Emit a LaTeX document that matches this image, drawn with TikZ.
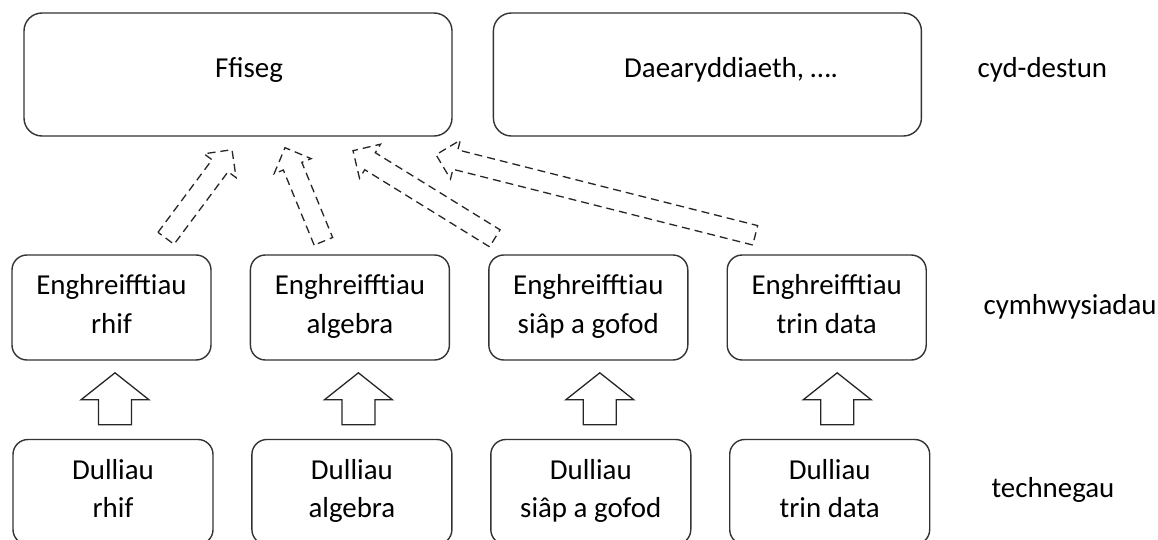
\documentclass[tikz,border=0pt]{standalone}
\usepackage{fontspec}
\setmainfont{Carlito}
\usetikzlibrary{calc, positioning}
\def\boxgap{38pt}
\tikzset{
    box/.style = {
        draw=black!80, rounded corners=15pt, line width=1.4pt, align=center,
        minimum width=199pt, minimum height=105pt, inner sep=0pt, text depth=7pt
    },
    topbox/.style = {
        box, minimum width=428pt, minimum height=123pt, rounded corners=18pt
    },
    layer/.style = {anchor=base west},
    uparrow/.style = {draw=black!85, line width=1.3pt, line join=miter},
    dasharrow/.style = {draw=black!85, line width=1.3pt, dash pattern=on 8pt off 5pt}
}
% block arrow: [style]{tail}{tip}{half shaft}{half head}{head length}
\newcommand{\blockarrow}[6][]{
    \coordinate (ba-t) at (#2);
    \coordinate (ba-h) at (#3);
    \coordinate (ba-b) at ($(ba-h)!#6!(ba-t)$);
    \draw[#1] ($(ba-t)!#4!90:(ba-h)$) -- ($(ba-b)!#4!-90:(ba-t)$) -- ($(ba-b)!#5!-90:(ba-t)$)
        -- (ba-h) -- ($(ba-b)!#5!90:(ba-t)$) -- ($(ba-b)!#4!90:(ba-t)$) -- ($(ba-t)!#4!-90:(ba-h)$) -- cycle;
}

\begin{document}
\begin{tikzpicture}[x=1pt, y=-1pt, every node/.style={font=\fontsize{28.9pt}{38.5pt}\selectfont}]
        \useasboundingbox (0,0) rectangle (1158,540);
        % Place the blocks
        \node[topbox] (ffiseg) at (238,74.5) {};
        \node[topbox, right=40pt of ffiseg] (daear) {};
        \node[anchor=base] (ffisegtxt) at (249,78) {Ffiseg};
        \node[anchor=base] (daeartxt) at (731,78) {Daearyddiaeth, ….};

        \node[box] (eng1) at (111.5,307.5) {Enghreifftiau\\rhif};
        \node[box, right=\boxgap of eng1] (eng2) {Enghreifftiau\\algebra};
        \node[box, right=\boxgap of eng2] (eng3) {Enghreifftiau\\siâp a gofod};
        \node[box, right=\boxgap of eng3] (eng4) {Enghreifftiau\\trin data};

        \node[box, minimum width=200pt] (dul1) at (113,492) {Dulliau\\rhif};
        \node[box, minimum width=200pt, right=37.5pt of dul1] (dul2) {Dulliau\\algebra};
        \node[box, minimum width=200pt, right=37.5pt of dul2] (dul3) {Dulliau\\siâp a gofod};
        \node[box, minimum width=200pt, right=37.5pt of dul3] (dul4) {Dulliau\\trin data};

        % layer names
        \node[layer] (ctx) at (974,78) {cyd-destun};
        \node[layer] (app) at (980,314) {cymhwysiadau};
        \node[layer] (tech) at (988,497) {technegau};

        % techniques up to applications
        \blockarrow[uparrow]{$(dul1.north)+(2,-14)$}{$(dul1.north)+(2,-66)$}{16.5pt}{34pt}{27pt}
        \blockarrow[uparrow]{$(dul2.north)+(6.5,-14)$}{$(dul2.north)+(6.5,-66)$}{16.5pt}{34pt}{27pt}
        \blockarrow[uparrow]{$(dul3.north)+(9,-14)$}{$(dul3.north)+(9,-66)$}{16.5pt}{34pt}{27pt}
        \blockarrow[uparrow]{$(dul4.north)+(7.5,-14)$}{$(dul4.north)+(7.5,-66)$}{16.5pt}{34pt}{27pt}

        % applications up to context
        \blockarrow[dasharrow]{$(eng1.north)+(54.5,-16)$}{$(ffiseg.south)+(-6,13)$}{10pt}{20pt}{20pt}
        \blockarrow[dasharrow]{$(eng2.north)+(-26.5,-13)$}{$(ffiseg.south)+(47,11)$}{10pt}{20pt}{20pt}
        \blockarrow[dasharrow]{$(eng3.north)+(-93.5,-16)$}{$(ffiseg.south)+(115,14)$}{10pt}{20pt}{20pt}
        \blockarrow[dasharrow]{$(eng4.north)+(-71.5,-19)$}{$(ffiseg.south)+(198,18)$}{10pt}{20pt}{20pt}
\end{tikzpicture}
\end{document}
